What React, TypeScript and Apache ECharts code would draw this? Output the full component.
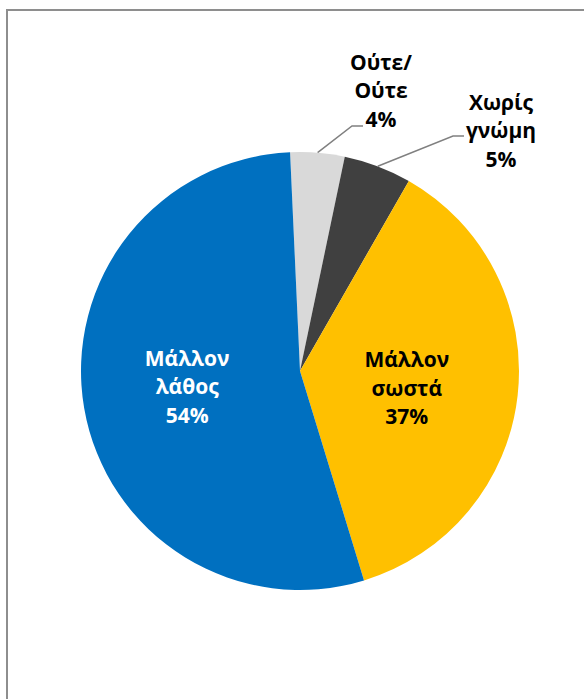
import React, { useEffect, useRef } from "react";
import * as echarts from "echarts";

const categories = ["Ούτε/\nΟύτε", "Χωρίς\nγνώμη", "Μάλλον\nσωστά", "Μάλλον\nλάθος"];
const values = [4, 5, 37, 54];
const colors = ["#D9D9D9", "#404040", "#FFC000", "#0070C0"];
const labelColors = ["#000000", "#000000", "#000000", "#FFFFFF"];
const labelInside = [false, false, true, true];

// layout of outside labels: label centre, elbow of leader, end of leader
const outsideLayout: Record<number, { x: number; y: number; elbow: number[]; end: number[] }> = {
  0: { x: 381, y: 90, elbow: [352, 126], end: [363, 126] },
  1: { x: 501, y: 130, elbow: [453, 136], end: [464, 136] },
};
// small nudges of inside labels
const insideNudge: Record<number, { dx: number; dy: number }> = {
  2: { dx: -5, dy: 4 },
  3: { dx: -2, dy: -4 },
};

export default function App() {
  const ref = useRef<HTMLDivElement>(null);
  useEffect(() => {
    if (!ref.current) return;
    const chart = echarts.init(ref.current, undefined, { renderer: "svg" });
    const data = categories.map((name, i) => ({
      name,
      value: values[i],
      itemStyle: { color: colors[i] },
      label: {
        position: labelInside[i] ? "inside" : "outside",
        color: labelColors[i],
      },
      labelLine: { show: !labelInside[i] },
    }));
    chart.setOption({
      animation: false,
      backgroundColor: "#FFFFFF",
      graphic: [
        {
          type: "rect",
          shape: { x: 7, y: 10, width: 620, height: 720 },
          style: { fill: "none", stroke: "#8E8E8E", lineWidth: 2 },
          silent: true,
        },
      ],
      series: [
        {
          type: "pie",
          center: [300, 371],
          radius: [0, 219],
          startAngle: 92.6,
          clockwise: true,
          data,
          label: {
            show: true,
            formatter: "{b}\n{d}%",
            fontFamily: "Open Sans",
            fontWeight: "bold",
            fontSize: 21,
            lineHeight: 28.5,
            align: "center",
            overflow: "none",
          },
          labelLine: {
            show: true,
            lineStyle: { color: "#808080", width: 1.5 },
          },
          labelLayout: (params: any) => {
            const cfg = outsideLayout[params.dataIndex];
            if (!cfg) {
              const n = insideNudge[params.dataIndex];
              return n ? { dx: n.dx, dy: n.dy } : {};
            }
            const p0 = params.labelLinePoints ? params.labelLinePoints[0] : cfg.elbow;
            return {
              x: cfg.x,
              y: cfg.y,
              align: "center",
              verticalAlign: "middle",
              labelLinePoints: [p0, cfg.elbow, cfg.end],
            };
          },
        },
      ],
    });
    return () => chart.dispose();
  }, []);
  return (
    <div
      ref={ref}
      style={{ position: "absolute", left: 0, top: 0, width: 584, height: 699 }}
    />
  );
}
